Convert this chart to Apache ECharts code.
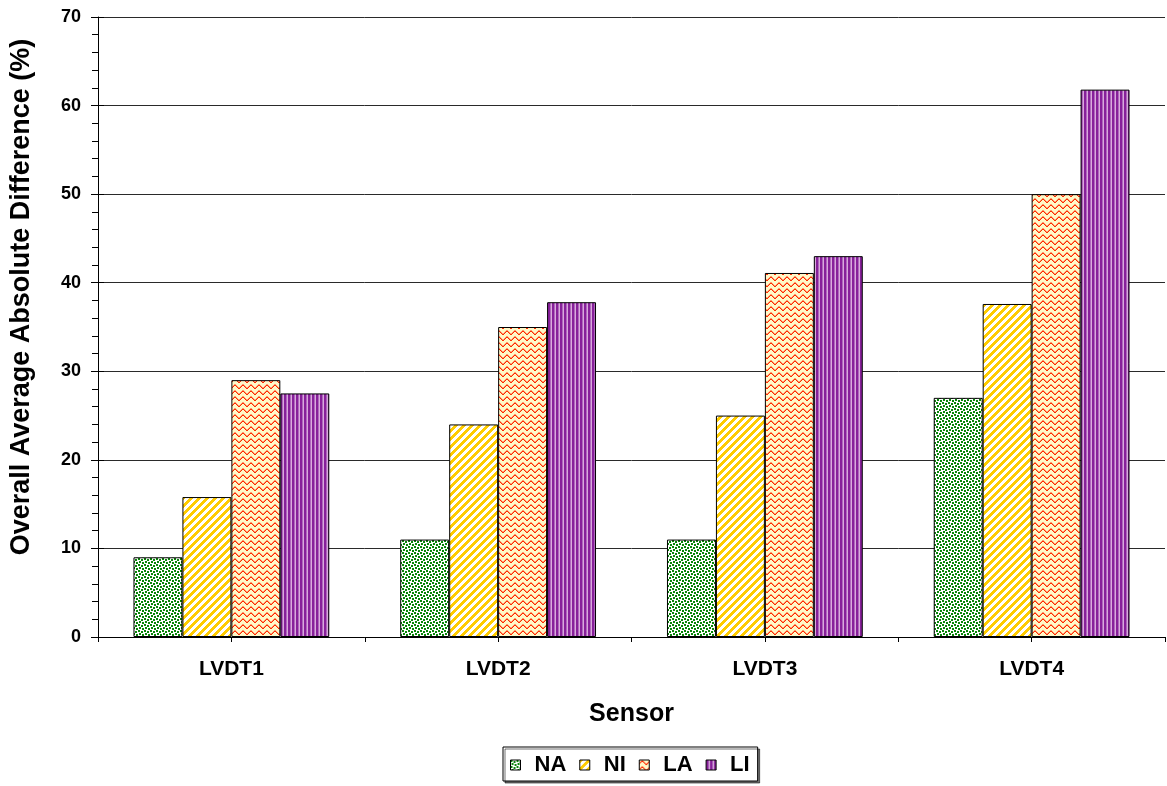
<!DOCTYPE html>
<html>
<head>
<meta charset="utf-8">
<script src="https://cdn.jsdelivr.net/npm/echarts@6/dist/echarts.min.js"></script>
<style>
html,body{margin:0;padding:0;background:#fff;}
#chart{width:1167px;height:786px;}
</style>
</head>
<body>
<div id="chart"></div>
<script>
// ---- data ----
var categories = ['LVDT1', 'LVDT2', 'LVDT3', 'LVDT4'];
var seriesNames = ['NA', 'NI', 'LA', 'LI'];
var valuesNA = [9, 11, 11, 27];
var valuesNI = [15.8, 24, 25, 37.6];
var valuesLA = [29, 35, 41.1, 50];
var valuesLI = [27.5, 37.8, 43, 61.8];
var yTicks = [0, 10, 20, 30, 40, 50, 60, 70];

// ---- fill patterns ----
function makeTile(w, h, draw) {
  var c = document.createElement('canvas');
  c.width = w; c.height = h;
  var ctx = c.getContext('2d');
  draw(ctx, w, h);
  return c;
}
var patNA = makeTile(6, 6, function (ctx, w, h) {
  ctx.fillStyle = '#ffffff'; ctx.fillRect(0, 0, w, h);
  ctx.fillStyle = '#0A850A';
  ctx.fillRect(0, 0, 2, 2);
  ctx.fillRect(3, 1, 2, 2);
  ctx.fillRect(1, 3, 2, 2);
  ctx.fillRect(4, 4, 2, 2);
});
var patNI = makeTile(8, 8, function (ctx, w, h) {
  ctx.fillStyle = '#ffffff'; ctx.fillRect(0, 0, w, h);
  ctx.fillStyle = '#FFCC00';
  for (var y = 0; y < h; y++) {
    for (var k = -1; k < 2; k++) {
      var x0 = (w - 1 - y) + k * 8;
      ctx.fillRect(x0, y, 4, 1);
    }
  }
});
var patLA = makeTile(8, 6, function (ctx, w, h) {
  ctx.fillStyle = '#FFF8C8'; ctx.fillRect(0, 0, w, h);
  ctx.fillStyle = '#FF2A00';
  var ys = [3, 2, 1, 1, 2, 3, 4, 4];
  for (var x = 0; x < w; x++) ctx.fillRect(x, ys[x], 1, 1);
  ctx.fillStyle = '#FF9A70';
  var ys2 = [2, 1, 0, 0, 1, 2, 3, 3];
  for (var x2 = 0; x2 < w; x2++) ctx.fillRect(x2, ys2[x2], 1, 1);
});
var patLI = makeTile(4, 4, function (ctx, w, h) {
  ctx.fillStyle = '#D9AADC'; ctx.fillRect(0, 0, w, h);
  ctx.fillStyle = '#87209A';
  ctx.fillRect(0, 0, 2, h);
  ctx.fillStyle = '#B068BE';
  ctx.fillRect(2, 0, 1, h);
});

function pattern(c) { return { image: c, repeat: 'repeat' }; }

var chart = echarts.init(document.getElementById('chart'), null, { renderer: 'canvas' });

var fontFam = 'Arial, "Liberation Sans", sans-serif';

function barSeries(name, data, pat) {
  return {
    name: name,
    type: 'bar',
    data: data,
    xAxisIndex: 0,
    yAxisIndex: 0,
    barGap: '0%',
    barCategoryGap: '26.6%',
    itemStyle: { color: pattern(pat), borderColor: '#000', borderWidth: 1 }
  };
}

var option = {
  animation: false,
  backgroundColor: '#ffffff',
  grid: { left: 97, right: 2, top: 17, bottom: 149, containLabel: false },
  legend: {
    data: seriesNames,
    left: 503,
    top: 747,
    orient: 'horizontal',
    itemWidth: 10,
    itemHeight: 10,
    itemGap: 13,
    icon: 'rect',
    padding: [7, 8, 5, 7],
    borderColor: '#000',
    borderWidth: 1,
    shadowColor: 'rgba(0,0,0,0.55)',
    shadowOffsetX: 2,
    shadowOffsetY: 2,
    shadowBlur: 0,
    backgroundColor: '#fff',
    textStyle: { fontFamily: fontFam, fontWeight: 'bold', fontSize: 22, color: '#000', padding: [0, 0, 0, 9] },
    itemStyle: { borderColor: '#000', borderWidth: 1 }
  },
  xAxis: [
    {
      type: 'category',
      data: categories,
      name: 'Sensor',
      nameLocation: 'middle',
      nameGap: 65,
      nameTextStyle: { fontFamily: fontFam, fontWeight: 'bold', fontSize: 25, color: '#000' },
      axisLine: { show: true, lineStyle: { color: '#000', width: 1 } },
      axisTick: { show: false },
      axisLabel: { fontFamily: fontFam, fontWeight: 'bold', fontSize: 21, color: '#000', margin: 22 },
      splitLine: { show: false }
    },
    {
      type: 'value',
      min: 0, max: 4, interval: 0.5,
      position: 'bottom',
      axisLine: { show: false },
      axisTick: { show: true, length: 5, lineStyle: { color: '#000', width: 1 } },
      axisLabel: { show: false },
      splitLine: { show: false }
    }
  ],
  yAxis: [
    {
      type: 'value',
      min: 0, max: 70, interval: 10,
      name: 'Overall Average Absolute Difference (%)',
      nameLocation: 'middle',
      nameGap: 63,
      nameTextStyle: { fontFamily: fontFam, fontWeight: 'bold', fontSize: 27, color: '#000', padding: [0, 0, 0, 60] },
      axisLine: { show: true, lineStyle: { color: '#000', width: 1 } },
      axisTick: { show: true, length: 7, lineStyle: { color: '#000', width: 1 } },
      minorTick: { show: true, splitNumber: 5, length: 6, lineStyle: { color: '#000', width: 1 } },
      axisLabel: {
        fontFamily: fontFam, fontWeight: 'bold', fontSize: 18, color: '#000', margin: 17,
        formatter: function (v) { return yTicks.indexOf(v) >= 0 ? String(v) : ''; }
      },
      splitLine: { show: true, lineStyle: { color: '#2a2a2a', width: 1 } }
    },
    {
      type: 'value',
      min: 0, max: 70, interval: 10,
      position: 'left',
      axisLine: { show: false },
      axisTick: { show: true, inside: true, length: 6, lineStyle: { color: '#000', width: 1 } },
      axisLabel: { show: false },
      splitLine: { show: false }
    }
  ],
  series: [
    barSeries('NA', valuesNA, patNA),
    barSeries('NI', valuesNI, patNI),
    barSeries('LA', valuesLA, patLA),
    barSeries('LI', valuesLI, patLI)
  ]
};

chart.setOption(option);
</script>
</body>
</html>
